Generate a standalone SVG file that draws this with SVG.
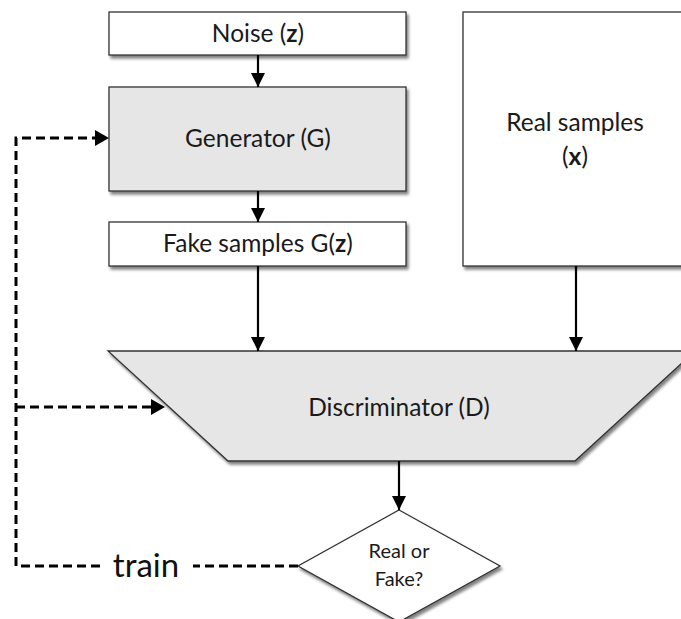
<svg xmlns="http://www.w3.org/2000/svg" width="681" height="619" viewBox="0 0 681 619">
  <defs>
    <filter id="shadow" x="-10%" y="-10%" width="130%" height="130%">
      <feGaussianBlur in="SourceAlpha" stdDeviation="1.5"/>
      <feOffset dx="2" dy="3" result="b"/>
      <feComponentTransfer><feFuncA type="linear" slope="0.5"/></feComponentTransfer>
      <feMerge><feMergeNode/><feMergeNode in="SourceGraphic"/></feMerge>
    </filter>
    <marker id="arrow" viewBox="0 0 14 14" refX="14" refY="7" markerWidth="14" markerHeight="14" markerUnits="userSpaceOnUse" orient="auto">
      <path d="M0,0 L14,7 L0,14 Z" fill="#000"/>
    </marker>
  </defs>
  <style>
    .box { stroke: #333; stroke-width: 1.3; filter: url(#shadow); }
    .white { fill: #fff; }
    .grey { fill: #e6e6e6; }
    .label { font-family: Lato, "Open Sans", "Liberation Sans", sans-serif; font-size: 24.5px; fill: #1a1a1a; text-anchor: middle; }
    .small { font-size: 20px; }
    .solid { stroke: #000; stroke-width: 2.2; fill: none; marker-end: url(#arrow); }
    .dash { stroke: #000; stroke-width: 3; stroke-dasharray: 9 5; fill: none; }
  </style>
  <rect width="681" height="619" fill="#fff"/>

  <g id="noise">
    <rect class="box white" x="109" y="12" width="297" height="43"/>
    <text class="label" x="258" y="42">Noise (<tspan font-weight="bold">z</tspan>)</text>
  </g>

  <g id="generator">
    <rect class="box grey" x="109" y="87" width="297" height="104"/>
    <text class="label" x="258" y="147">Generator (G)</text>
  </g>

  <g id="fake-samples">
    <rect class="box white" x="109" y="222" width="297" height="44"/>
    <text class="label" x="258" y="252">Fake samples G(<tspan font-weight="bold">z</tspan>)</text>
  </g>

  <g id="real-samples">
    <rect class="box white" x="463" y="12" width="230" height="254"/>
    <text class="label" x="575" y="131">Real samples</text>
    <text class="label" x="575" y="165">(<tspan font-weight="bold">x</tspan>)</text>
  </g>

  <g id="discriminator">
    <polygon class="box grey" points="108,351 695,351 575,461 228,461"/>
    <text class="label" x="399" y="416">Discriminator (D)</text>
  </g>

  <g id="decision">
    <polygon class="box white" points="399,510 500,566 399,622 298,566"/>
    <text class="label small" x="399" y="558">Real or</text>
    <text class="label small" x="399" y="586">Fake?</text>
  </g>

  <g id="connectors">
    <line class="solid" x1="258" y1="55" x2="258" y2="87"/>
    <line class="solid" x1="258" y1="191" x2="258" y2="222"/>
    <line class="solid" x1="258" y1="266" x2="258" y2="351"/>
    <line class="solid" x1="576" y1="266" x2="576" y2="351"/>
    <line class="solid" x1="399" y1="461" x2="399" y2="510"/>
    <!-- training feedback loop -->
    <path class="dash" d="M298,566 H193"/>
    <path class="dash" d="M100,566 H16 V138 H96"/>
    <path d="M95,130 L109,138 L95,146 Z" fill="#000"/>
    <path class="dash" d="M16,407 H152"/>
    <path d="M151,399 L165,407 L151,415 Z" fill="#000"/>
    <text x="146" y="577" font-family="Lato, Open Sans, Liberation Sans, sans-serif" font-size="33" text-anchor="middle" fill="#111">train</text>
  </g>
</svg>
